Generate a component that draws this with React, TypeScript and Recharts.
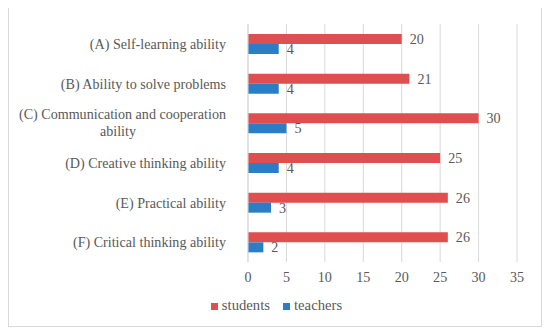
import React from "react";
import {
  Bar,
  BarChart,
  CartesianGrid,
  LabelList,
  Legend,
  XAxis,
  YAxis,
} from "recharts";

const categories = [
  "(A) Self-learning ability",
  "(B) Ability to solve problems",
  "(C) Communication and cooperation ability",
  "(D) Creative thinking ability",
  "(E) Practical ability",
  "(F) Critical thinking ability",
];
const students = [20, 21, 30, 25, 26, 26];
const teachers = [4, 4, 5, 4, 3, 2];
const xTicks = [0, 5, 10, 15, 20, 25, 30, 35];

const FONT = "Liberation Serif";
const FS = 14.1;
const LEGEND_FS = 14.7;
const TEXT = "#595959";
const RED = "#df4f4f";
const BLUE = "#2b7ec6";

const data = categories.map((name, i) => ({
  name,
  students: students[i],
  teachers: teachers[i],
}));

function CategoryTick({ x, y, payload }: any) {
  const label: string = payload.value;
  const cut = label.lastIndexOf(" ");
  const lines = label.length > 32 ? [label.slice(0, cut), label.slice(cut + 1)] : [label];
  const style = { fontFamily: FONT, fontSize: FS };
  if (lines.length === 1) {
    return (
      <text x={x - 14} y={y} dy={5} textAnchor="end" fill={TEXT} style={style}>
        {label}
      </text>
    );
  }
  // second line is centred under the first
  const w = 216;
  return (
    <g>
      <text x={x - 14} y={y} dy={-4} textAnchor="end" fill={TEXT} style={style}>
        {lines[0]}
      </text>
      <text x={x - 14 - w / 2} y={y} dy={13} textAnchor="middle" fill={TEXT} style={style}>
        {lines[1]}
      </text>
    </g>
  );
}

export default function App() {
  return (
    <div
      style={{
        width: 532,
        height: 318,
        border: "1px solid #d9d9d9",
        marginTop: -1,
        background: "#fff",
        fontFamily: FONT,
      }}
    >
      <BarChart
        width={532}
        height={318}
        data={data}
        layout="vertical"
        margin={{ top: 16, right: 24, left: 0, bottom: 12 }}
        barGap={0}
        barCategoryGap={0}
        style={{ fontFamily: FONT }}
      >
        <CartesianGrid horizontal={false} stroke="#d9d9d9" />
        <XAxis
          type="number"
          domain={[0, 35]}
          ticks={xTicks}
          axisLine={false}
          tickLine={false}
          tickMargin={4}
          height={34}
          tick={{ fill: TEXT, fontSize: FS, style: { fontFamily: FONT } }}
        />
        <YAxis
          type="category"
          dataKey="name"
          width={239}
          axisLine={{ stroke: "#d9d9d9" }}
          tickLine={false}
          tick={<CategoryTick />}
          interval={0}
        />
        <Legend
          verticalAlign="bottom"
          iconType="square"
          iconSize={7}
          wrapperStyle={{ left: 6, width: 536 }}
          formatter={(v: string) => (
            <span style={{ color: TEXT, fontFamily: FONT, fontSize: LEGEND_FS, marginRight: 3 }}>
              {v}
            </span>
          )}
        />
        <Bar dataKey="students" fill={RED} barSize={10} isAnimationActive={false}>
          <LabelList
            dataKey="students"
            position="right"
            offset={8}
            fill={TEXT}
            fontSize={FS}
            style={{ fontFamily: FONT }}
          />
        </Bar>
        <Bar dataKey="teachers" fill={BLUE} barSize={10} isAnimationActive={false}>
          <LabelList
            dataKey="teachers"
            position="right"
            offset={8}
            fill={TEXT}
            fontSize={FS}
            style={{ fontFamily: FONT }}
          />
        </Bar>
      </BarChart>
    </div>
  );
}
